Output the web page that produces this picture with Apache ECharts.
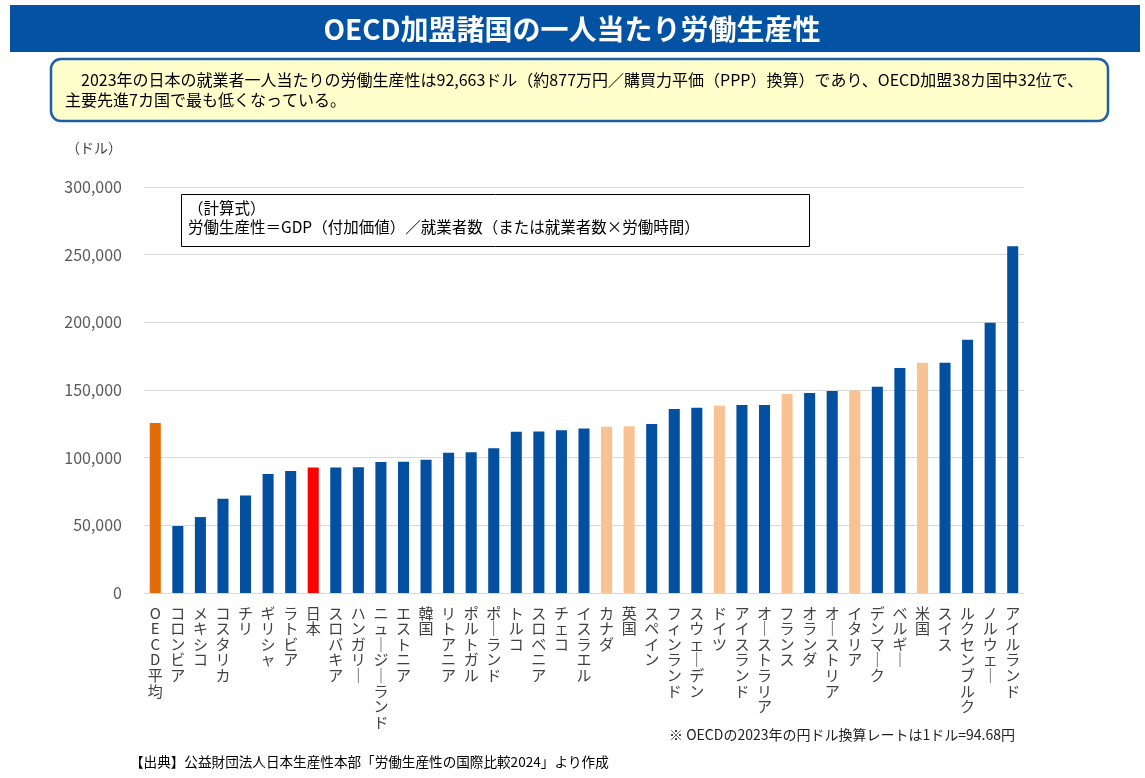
<!DOCTYPE html>
<html>
<head>
<meta charset="utf-8">
<script src="https://cdn.jsdelivr.net/npm/echarts@6/dist/echarts.min.js"></script>
<style>
  html, body { margin: 0; padding: 0; background: #fff; }
  #chart { width: 1145px; height: 778px; }
</style>
</head>
<body>
<div id="chart"></div>
<script>
const countries = [
  'OECD平均', 'コロンビア', 'メキシコ', 'コスタリカ', 'チリ', 'ギリシャ', 'ラトビア', '日本',
  'スロバキア', 'ハンガリー', 'ニュージーランド', 'エストニア', '韓国', 'リトアニア', 'ポルトガル',
  'ポーランド', 'トルコ', 'スロベニア', 'チェコ', 'イスラエル', 'カナダ', '英国', 'スペイン',
  'フィンランド', 'スウェーデン', 'ドイツ', 'アイスランド', 'オーストラリア', 'フランス', 'オランダ',
  'オーストリア', 'イタリア', 'デンマーク', 'ベルギー', '米国', 'スイス', 'ルクセンブルク',
  'ノルウェー', 'アイルランド'
]
const productivity = [
  125600, 49500, 56100, 69600, 72100, 87900, 90100, 92663,
  92800, 93000, 96800, 97000, 98500, 103600, 104000,
  106900, 119100, 119400, 120200, 121500, 122900, 123300, 124800,
  135900, 136900, 138300, 138900, 138900, 147000, 147700,
  149200, 149700, 152400, 166200, 170100, 170100, 187100,
  199700, 256300
]
const g7Others = ['カナダ', '英国', 'ドイツ', 'フランス', 'イタリア', '米国']
const yTicks = [0, 50000, 100000, 150000, 200000, 250000, 300000]

const COLOR_BASE = '#0350A0'
const COLOR_AVG = '#E36C0A'
const COLOR_JAPAN = '#FF0000'
const COLOR_G7 = '#F9C293'
const FONT = '"Noto Sans CJK JP", "Noto Sans", sans-serif'

function barColor(name) {
  if (name === 'OECD平均') return COLOR_AVG
  if (name === '日本') return COLOR_JAPAN
  if (g7Others.includes(name)) return COLOR_G7
  return COLOR_BASE
}

// vertical label: one char per line, long vowel mark shown upright
function verticalLabel(name) {
  return name.split('').map(c => (c === 'ー' ? '｜' : c)).join('\n')
}

const myChart = echarts.init(document.getElementById('chart'))

const option = {
  backgroundColor: '#FFFFFF',
  textStyle: { fontFamily: FONT },
  grid: {
    left: 144,
    right: 121,
    top: 187,
    bottom: 185,
  },
  xAxis: {
    type: 'category',
    data: countries,
    axisTick: { show: false },
    axisLine: { lineStyle: { color: '#D9D9D9', width: 1 } },
    axisLabel: {
      interval: 0,
      margin: 12,
      color: '#404040',
      fontSize: 15,
      lineHeight: 15.6,
      verticalAlign: 'top',
      formatter: verticalLabel,
    },
  },
  yAxis: {
    type: 'value',
    min: yTicks[0],
    max: yTicks[yTicks.length - 1],
    interval: yTicks[1] - yTicks[0],
    axisLine: { show: false },
    axisTick: { show: false },
    splitLine: { lineStyle: { color: '#D9D9D9', width: 1 } },
    axisLabel: {
      margin: 22,
      color: '#595959',
      fontSize: 16,
      formatter: v => v.toLocaleString('en-US'),
    },
  },
  series: [
    {
      type: 'bar',
      barWidth: '49%',
      data: productivity.map((v, i) => ({
        value: v,
        itemStyle: { color: barColor(countries[i]) },
      })),
    },
  ],
  graphic: [
    // header band
    {
      type: 'rect',
      shape: { x: 10, y: 5, width: 1130, height: 47 },
      style: { fill: '#0352A3' },
    },
    {
      type: 'text',
      x: 572, y: 29,
      style: {
        text: 'OECD加盟諸国の一人当たり労働生産性',
        fill: '#FFFFFF',
        font: 'bold 28px ' + FONT,
        align: 'center',
        verticalAlign: 'middle',
      },
    },
    // summary box
    {
      type: 'rect',
      shape: { x: 51, y: 59, width: 1057, height: 62, r: 10 },
      style: { fill: '#FFFFCC', stroke: '#1F5FA6', lineWidth: 2.5 },
    },
    {
      type: 'text',
      x: 65, y: 70,
      style: {
        text: '　2023年の日本の就業者一人当たりの労働生産性は92,663ドル（約877万円／購買力平価（PPP）換算）であり、OECD加盟38カ国中32位で、\n主要先進7カ国で最も低くなっている。',
        fill: '#000000',
        font: '16px ' + FONT,
        lineHeight: 20,
      },
    },
    // unit
    {
      type: 'text',
      x: 66, y: 141,
      style: { text: '（ドル）', fill: '#404040', font: '14px ' + FONT },
    },
    // formula box
    {
      type: 'rect',
      shape: { x: 181.5, y: 194.5, width: 628, height: 52 },
      style: { fill: '#FFFFFF', stroke: '#000000', lineWidth: 1 },
      z: 10,
    },
    {
      type: 'text',
      x: 188, y: 199,
      z: 11,
      style: {
        text: '（計算式）\n労働生産性＝GDP（付加価値）／就業者数（または就業者数×労働時間）',
        fill: '#000000',
        font: '15.5px ' + FONT,
        lineHeight: 19,
      },
    },
    // notes
    {
      type: 'text',
      x: 1015, y: 735,
      style: {
        text: '※ OECDの2023年の円ドル換算レートは1ドル=94.68円',
        fill: '#222222',
        font: '14px ' + FONT,
        align: 'right',
        verticalAlign: 'middle',
      },
    },
    {
      type: 'text',
      x: 130, y: 762,
      style: {
        text: '【出典】公益財団法人日本生産性本部「労働生産性の国際比較2024」より作成',
        fill: '#000000',
        font: '13.6px ' + FONT,
        verticalAlign: 'middle',
      },
    },
  ],
}

myChart.setOption(option, true)
</script>
</body>
</html>
